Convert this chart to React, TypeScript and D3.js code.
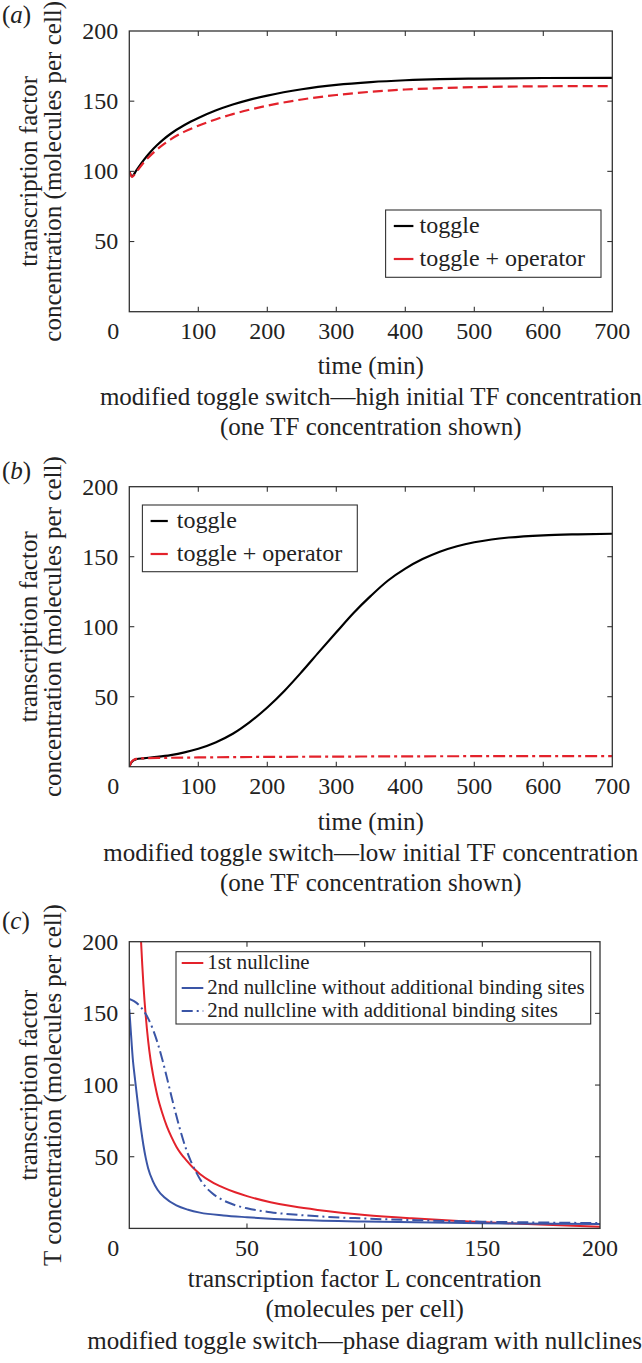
import React from 'react';
import * as d3 from 'd3';

// ---------- data ----------
const timeTicks = [0, 100, 200, 300, 400, 500, 600, 700];
const concTicks = [50, 100, 150, 200];
const lTicks = [0, 50, 100, 150, 200];

// panel (a): high initial TF concentration  [time (min), molecules per cell]
const aToggle: [number, number][] = [
  [0, 100], [4, 96.5], [10, 100.5], [20, 107.5], [30, 113.5], [40, 118.6], [50, 123], [60, 126.8],
  [80, 133], [100, 138], [125, 143.3], [150, 147.6], [175, 151.1], [200, 154], [250, 158.5],
  [300, 161.6], [350, 163.6], [400, 164.9], [450, 165.7], [500, 166.1], [600, 166.5], [700, 166.6],
];
const aOperator: [number, number][] = [
  [0, 100], [4, 96], [10, 99.5], [20, 105.8], [30, 111], [40, 115.5], [50, 119.4], [60, 122.8],
  [80, 128.3], [100, 132.5], [125, 137], [150, 140.8], [175, 144], [200, 146.8], [250, 151.2],
  [300, 154.4], [350, 156.7], [400, 158.3], [450, 159.3], [500, 160], [600, 160.6], [700, 160.8],
];

// panel (b): low initial TF concentration
const bToggle: [number, number][] = [
  [0, 0], [3, 3], [6, 4.5], [10, 5.3], [20, 6], [40, 7], [60, 8.3], [80, 10.2], [100, 12.8],
  [125, 17.3], [150, 23.5], [175, 32], [200, 42.3], [225, 54.3], [250, 67.8], [275, 82], [300, 96],
  [325, 109.8], [350, 122], [375, 133], [400, 141.5], [425, 148.3], [450, 153.6], [475, 157.5],
  [500, 160.3], [525, 162.3], [550, 163.7], [600, 165.3], [650, 166], [700, 166.4],
];
const bOperator: [number, number][] = [
  [0, 0], [2, 2.5], [4, 4], [7, 5], [10, 5.6], [20, 6], [50, 6.3], [100, 6.6], [200, 7],
  [300, 7.2], [400, 7.4], [500, 7.5], [600, 7.6], [700, 7.6],
];

// panel (c): nullclines [L, T]
const cFirst: [number, number][] = [
  [5, 200], [5.5, 184], [6, 170], [7, 148], [8, 131], [9, 118], [10, 108], [11, 99.5], [12, 92],
  [14, 80.5], [16, 71], [18, 63.5], [20, 57], [22, 52], [24, 48], [27, 42.5], [30, 38], [35, 32.5],
  [40, 28.5], [45, 25.2], [50, 22.5], [60, 18.3], [70, 15.2], [80, 12.9], [90, 11], [100, 9.4],
  [120, 7], [140, 5.1], [160, 3.6], [180, 2.3], [200, 1.1],
];
const cSecondNoSites: [number, number][] = [
  [0, 153], [0.5, 141], [1, 129], [1.5, 118], [2, 110], [2.5, 103], [3, 96], [4, 82], [5, 69],
  [6, 58], [7, 49], [8, 42], [10, 33], [12, 27], [15, 21.5], [20, 16], [25, 13], [30, 11],
  [40, 9], [50, 7.8], [70, 6], [100, 4.8], [150, 3.6], [200, 3],
];
const cSecondSites: [number, number][] = [
  [0, 160], [2, 158.5], [4, 156], [6, 152], [8, 146.5], [10, 139], [12, 129.5], [14, 118],
  [16, 105], [18, 91.5], [20, 78.5], [22, 66.5], [24, 56], [26, 47.5], [28, 40.5], [30, 34.5],
  [32, 29.8], [35, 24.8], [40, 19.5], [45, 16.2], [50, 14], [60, 11.3], [75, 9], [100, 6.9],
  [125, 5.6], [150, 4.7], [175, 4.1], [200, 3.7],
];

// ---------- styling ----------
const FONT = '"Liberation Serif", "Times New Roman", Times, serif';
const AX = '#333333';
const RED = '#e3222b';
const BLUE = '#3a55a6';
const LABEL_FS = 25;
const TICK_FS = 24;

type Series = { data: [number, number][]; color: string; dash?: string; width: number; label: string };

type PanelProps = {
  id: string;
  left: number; right: number; top: number; bottom: number;
  xDomain: [number, number];
  xTicks: number[];
  series: Series[];
  legend: { x0: number; x1: number; y0: number; y1: number; rows: number[]; s0: number; s1: number; tx: number; fs: number };
};

function Panel({ id, left, right, top, bottom, xDomain, xTicks, series, legend }: PanelProps) {
  const x = d3.scaleLinear().domain(xDomain).range([left, right]);
  const y = d3.scaleLinear().domain([0, 200]).range([bottom, top]);
  const line = d3
    .line<[number, number]>()
    .x((d) => x(d[0]))
    .y((d) => y(d[1]))
    .curve(d3.curveMonotoneX);
  const tl = 5;
  return (
    <g>
      <defs>
        <clipPath id={`clip-${id}`}>
          <rect x={left} y={top} width={right - left} height={bottom - top} />
        </clipPath>
      </defs>
      <g clipPath={`url(#clip-${id})`}>
        {series.map((s, i) => (
          <path
            key={i}
            d={line(s.data) || ''}
            fill="none"
            stroke={s.color}
            strokeWidth={s.width}
            strokeDasharray={s.dash}
            strokeLinejoin="round"
          />
        ))}
      </g>
      <rect x={left} y={top} width={right - left} height={bottom - top} fill="none" stroke={AX} strokeWidth={1.3} />
      {xTicks.slice(1, -1).map((t) => (
        <g key={`xt${t}`}>
          <line x1={x(t)} x2={x(t)} y1={bottom} y2={bottom - tl} stroke={AX} strokeWidth={1.1} />
          <line x1={x(t)} x2={x(t)} y1={top} y2={top + tl} stroke={AX} strokeWidth={1.1} />
        </g>
      ))}
      {concTicks.slice(0, -1).map((t) => (
        <g key={`yt${t}`}>
          <line x1={left} x2={left + tl} y1={y(t)} y2={y(t)} stroke={AX} strokeWidth={1.1} />
          <line x1={right} x2={right - tl} y1={y(t)} y2={y(t)} stroke={AX} strokeWidth={1.1} />
        </g>
      ))}
      <g fontFamily={FONT} fontSize={TICK_FS} fill="#222">
        {xTicks.slice(1).map((t) => (
          <text key={`xl${t}`} x={x(t)} y={bottom + 27.5} textAnchor="middle">
            {t}
          </text>
        ))}
        <text x={left - 10} y={bottom + 27.5} textAnchor="end">0</text>
        {concTicks.map((t) => (
          <text key={`yl${t}`} x={left - 11} y={y(t) + 7.8} textAnchor="end">
            {t}
          </text>
        ))}
      </g>
      <rect
        x={legend.x0}
        y={legend.y0}
        width={legend.x1 - legend.x0}
        height={legend.y1 - legend.y0}
        fill="#fff"
        stroke={AX}
        strokeWidth={1.1}
      />
      {series.map((s, i) => (
        <g key={`lg${i}`}>
          <line
            x1={legend.s0}
            x2={legend.s1}
            y1={legend.rows[i]}
            y2={legend.rows[i]}
            stroke={s.color}
            strokeWidth={s.width}
            strokeDasharray={s.dash && id === 'c' ? '11,4,2,4' : undefined}
          />
          <text
            x={legend.tx}
            y={legend.rows[i]}
            dy="0.3em"
            fontFamily={FONT}
            fontSize={legend.fs}
            fill="#222"
          >
            {s.label}
          </text>
        </g>
      ))}
    </g>
  );
}

function YLabel({ lines, cy }: { lines: string[]; cy: number }) {
  const xs = [37, 61];
  return (
    <g fontFamily={FONT} fontSize={LABEL_FS} fill="#222">
      {lines.map((l, i) => (
        <text key={i} transform={`translate(${xs[i]},${cy}) rotate(-90)`} textAnchor="middle">
          {l}
        </text>
      ))}
    </g>
  );
}

export default function App() {
  const L = 129.3;
  const R = 612.3;
  const cxAB = (L + R) / 2;
  const Rc = 600;
  const cxC = (L + Rc) / 2;
  return (
    <svg
      width={642}
      height={1363}
      viewBox="0 0 642 1363"
      style={{ position: 'absolute', left: 0, top: 0, background: '#fff' }}
    >
      <rect width={642} height={1363} fill="#fff" />
      {/* ---- panel a ---- */}
      <text x={2} y={23} fontFamily={FONT} fontSize={LABEL_FS} fill="#222">
        (<tspan fontStyle="italic">a</tspan>)
      </text>
      <YLabel lines={['transcription factor', 'concentration (molecules per cell)']} cy={171.3} />
      <Panel
        id="a"
        left={L}
        right={R}
        top={31}
        bottom={311.7}
        xDomain={[0, 700]}
        xTicks={timeTicks}
        series={[
          { data: aToggle, color: '#000', width: 2.2, label: 'toggle' },
          { data: aOperator, color: RED, width: 2.2, dash: '10,5', label: 'toggle + operator' },
        ]}
        legend={{ x0: 385.6, x1: 601, y0: 210, y1: 277.3, rows: [226, 259], s0: 393.8, s1: 413.4, tx: 419.6, fs: 24 }}
      />
      <g fontFamily={FONT} fontSize={LABEL_FS} fill="#222" textAnchor="middle">
        <text x={cxAB} y={374}>time (min)</text>
        <text x={cxAB} y={405}>modified toggle switch—high initial TF concentration</text>
        <text x={cxAB} y={435}>(one TF concentration shown)</text>
      </g>

      {/* ---- panel b ---- */}
      <text x={2} y={479} fontFamily={FONT} fontSize={LABEL_FS} fill="#222">
        (<tspan fontStyle="italic">b</tspan>)
      </text>
      <YLabel lines={['transcription factor', 'concentration (molecules per cell)']} cy={626.7} />
      <Panel
        id="b"
        left={L}
        right={R}
        top={486.7}
        bottom={766.7}
        xDomain={[0, 700]}
        xTicks={timeTicks}
        series={[
          { data: bToggle, color: '#000', width: 2.2, label: 'toggle' },
          { data: bOperator, color: RED, width: 2.2, dash: '12,4,3,4', label: 'toggle + operator' },
        ]}
        legend={{ x0: 142.4, x1: 357.3, y0: 505, y1: 571.7, rows: [521, 554], s0: 150.6, s1: 167.8, tx: 176.8, fs: 24 }}
      />
      <g fontFamily={FONT} fontSize={LABEL_FS} fill="#222" textAnchor="middle">
        <text x={cxAB} y={829.5}>time (min)</text>
        <text x={cxAB} y={861}>modified toggle switch—low initial TF concentration</text>
        <text x={cxAB} y={891}>(one TF concentration shown)</text>
      </g>

      {/* ---- panel c ---- */}
      <text x={2} y={929} fontFamily={FONT} fontSize={LABEL_FS} fill="#222">
        (<tspan fontStyle="italic">c</tspan>)
      </text>
      <YLabel lines={['transcription factor', 'T concentration (molecules per cell)']} cy={1085} />
      <Panel
        id="c"
        left={L}
        right={Rc}
        top={941.7}
        bottom={1228.4}
        xDomain={[0, 200]}
        xTicks={lTicks}
        series={[
          { data: cFirst, color: RED, width: 2, label: '1st nullcline' },
          { data: cSecondNoSites, color: BLUE, width: 2, label: '2nd nullcline without additional binding sites' },
          { data: cSecondSites, color: BLUE, width: 2, dash: '11,4,2,4', label: '2nd nullcline with additional binding sites' },
        ]}
        legend={{ x0: 176, x1: 590.7, y0: 951.7, y1: 1024, rows: [963, 988, 1011], s0: 181.7, s1: 203.3, tx: 207.3, fs: 20.8 }}
      />
      <g fontFamily={FONT} fontSize={LABEL_FS} fill="#222" textAnchor="middle">
        <text x={cxC} y={1287}>transcription factor L concentration</text>
        <text x={cxC} y={1317}>(molecules per cell)</text>
        <text x={cxC} y={1349}>modified toggle switch—phase diagram with nullclines</text>
      </g>
    </svg>
  );
}
